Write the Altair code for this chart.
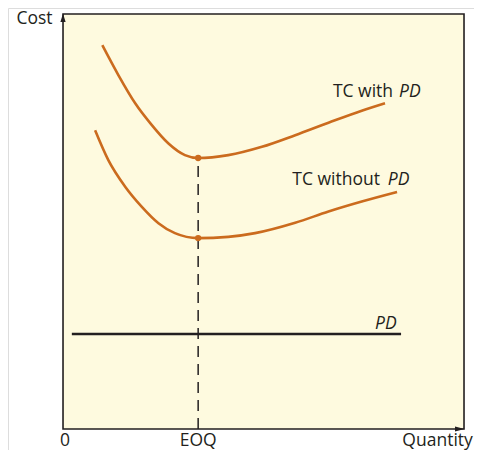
import altair as alt
import pandas as pd

# Data units: quantity 0..100 spans the framed area horizontally, cost 0..100 vertically
with_pd_q = [9.8, 13.8, 18.0, 22.1, 26.3, 30.4, 33.7, 41.2, 49.6, 57.9, 66.2, 74.5, 80.3]
with_pd_c = [92.5, 85.3, 78.5, 73.3, 68.8, 66.0, 65.3, 66.0, 68.0, 70.8, 73.8, 76.7, 78.5]
without_pd_q = [8.0, 11.3, 15.5, 19.6, 23.8, 27.9, 33.7, 41.2, 47.9, 57.9, 66.2, 74.5, 83.3]
without_pd_c = [72.0, 64.8, 58.4, 53.6, 49.6, 47.2, 46.0, 46.3, 47.2, 49.7, 52.4, 54.8, 57.1]
pd_q = [2.2, 84.3]
pd_c = [22.9, 22.9]
eoq_q = 33.7
eoq_c = [65.3, 46.0]

W, H = 466, 442
XS = alt.Scale(domain=[-13.72, 102.49], nice=False, zero=False)
YS = alt.Scale(domain=[-5.06, 101.45], nice=False, zero=False)

ORANGE = "#CB6B1E"
DARK = "#231F20"
BG = "#FEFADF"
FONT = "Open Sans"
FS = 17.5


def X(f="q"):
    return alt.X(f"{f}:Q", scale=XS, axis=None)


def Y(f="c"):
    return alt.Y(f"{f}:Q", scale=YS, axis=None)


frame_df = pd.DataFrame({"q": [0], "q2": [100], "c": [0], "c2": [100]})
frame = alt.Chart(frame_df).mark_rect(fill=BG, stroke=DARK, strokeWidth=1.6).encode(
    x=X(), x2="q2:Q", y=Y(), y2="c2:Q"
)

curves_df = pd.concat([
    pd.DataFrame({"q": with_pd_q, "c": with_pd_c, "s": "with"}),
    pd.DataFrame({"q": without_pd_q, "c": without_pd_c, "s": "without"}),
])
curves = alt.Chart(curves_df).mark_line(
    color=ORANGE, strokeWidth=2.6, interpolate="monotone"
).encode(x=X(), y=Y(), detail="s:N")

dash_df = pd.DataFrame({"q": [eoq_q], "c": [0], "c2": [eoq_c[0]]})
dash = alt.Chart(dash_df).mark_rule(
    color=DARK, strokeWidth=1.5, strokeDash=[11, 7]
).encode(x=X(), y=Y(), y2="c2:Q")

pd_df = pd.DataFrame({"q": pd_q, "c": pd_c})
pd_line = alt.Chart(pd_df).mark_line(color=DARK, strokeWidth=2.4).encode(x=X(), y=Y())

dots_df = pd.DataFrame({"q": [eoq_q, eoq_q], "c": eoq_c})
dots = alt.Chart(dots_df).mark_point(
    filled=True, color=ORANGE, size=40, opacity=1
).encode(x=X(), y=Y())

arrows_df = pd.DataFrame({"q": [0, 100], "c": [100, 0], "a": ["up", "right"]})
arrow_up = alt.Chart(arrows_df[arrows_df.a == "up"]).mark_point(
    shape="M0,-0.3L1.3,4L-1.3,4Z", filled=True, color=DARK, size=16, opacity=1
).encode(x=X(), y=Y())
arrow_right = alt.Chart(arrows_df[arrows_df.a == "right"]).mark_point(
    shape="M0.3,0L-4.5,-1.3L-4.5,1.3Z", filled=True, color=DARK, size=16, opacity=1
).encode(x=X(), y=Y())

# Labels
reg_df = pd.DataFrame({
    "q": [82.3, 79.05],
    "c": [81.2, 60.0],
    "t": ["TC with", "TC without"],
})
reg = alt.Chart(reg_df).mark_text(
    align="right", baseline="middle", font=FONT, fontSize=FS, color=DARK
).encode(x=X(), y=Y(), text="t:N")

ital_df = pd.DataFrame({
    "q": [83.8, 81.0, 77.8],
    "c": [81.2, 60.0, 25.3],
    "t": ["PD", "PD", "PD"],
})
ital = alt.Chart(ital_df).mark_text(
    align="left", baseline="middle", font=FONT, fontSize=FS, fontStyle="italic", color=DARK
).encode(x=X(), y=Y(), text="t:N")

cost_df = pd.DataFrame({"q": [-2.6], "c": [98.9], "t": ["Cost"]})
cost_txt = alt.Chart(cost_df).mark_text(
    align="right", baseline="middle", font=FONT, fontSize=FS, color=DARK
).encode(x=X(), y=Y(), text="t:N")

xlab_df = pd.DataFrame({
    "q": [0.5, eoq_q, 102.2],
    "c": [-3.98, -3.98, -3.98],
    "t": ["0", "EOQ", "Quantity"],
    "al": ["center", "center", "right"],
})
xlab_c = alt.Chart(xlab_df[xlab_df.al == "center"]).mark_text(
    align="center", baseline="alphabetic", font=FONT, fontSize=FS, color=DARK
).encode(x=X(), y=Y(), text="t:N")
xlab_r = alt.Chart(xlab_df[xlab_df.al == "right"]).mark_text(
    align="right", baseline="alphabetic", font=FONT, fontSize=FS, color=DARK
).encode(x=X(), y=Y(), text="t:N")

chart = alt.layer(
    frame, dash, pd_line, curves, dots, arrow_up, arrow_right,
    reg, ital, cost_txt, xlab_c, xlab_r
).properties(
    width=W, height=H, padding=0, autosize=alt.AutoSizeParams(type="none")
).configure_view(stroke=None).configure(background="white")

chart.save("out.html", embed_options={"renderer": "svg", "actions": False})
